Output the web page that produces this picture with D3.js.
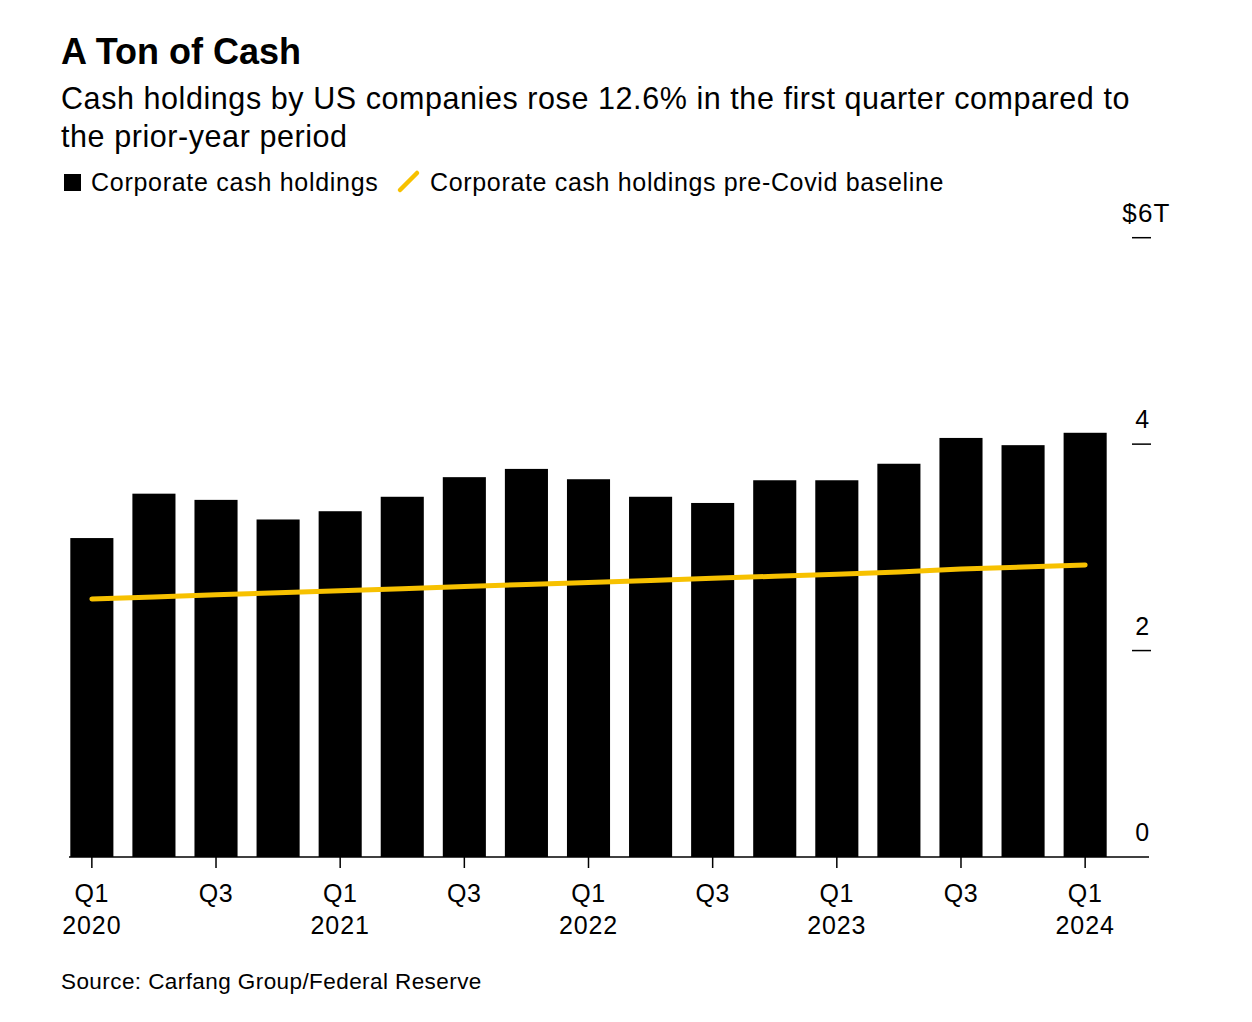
<!DOCTYPE html>
<html>
<head>
<meta charset="utf-8">
<script src="https://cdn.jsdelivr.net/npm/d3@7"></script>
<style>
  html, body { margin: 0; padding: 0; background: #fff; }
  svg { display: block; font-family: "Liberation Sans", Arial, sans-serif; }
</style>
</head>
<body>
<svg id="chart" width="1252" height="1022"></svg>
<script>
// ---- data ----
const quarters = ["Q1 2020","Q2 2020","Q3 2020","Q4 2020",
                  "Q1 2021","Q2 2021","Q3 2021","Q4 2021",
                  "Q1 2022","Q2 2022","Q3 2022","Q4 2022",
                  "Q1 2023","Q2 2023","Q3 2023","Q4 2023",
                  "Q1 2024"];
const cashHoldings = [3.09, 3.52, 3.46, 3.27, 3.35, 3.49, 3.68, 3.76,
                      3.66, 3.49, 3.43, 3.65, 3.65, 3.81, 4.06, 3.99, 4.11];
const preCovidBaseline = [2.50, 2.52, 2.54, 2.56, 2.58, 2.60, 2.62, 2.64,
                          2.66, 2.68, 2.70, 2.72, 2.74, 2.76, 2.79, 2.81, 2.83];
const yTicks = [0, 2, 4, 6];
const xTickQuarters = ["Q1 2020","Q3 2020","Q1 2021","Q3 2021","Q1 2022",
                       "Q3 2022","Q1 2023","Q3 2023","Q1 2024"];

const title = "A Ton of Cash";
const subtitle = ["Cash holdings by US companies rose 12.6% in the first quarter compared to",
                  "the prior-year period"];
const legendBars = "Corporate cash holdings";
const legendLine = "Corporate cash holdings pre-Covid baseline";
const source = "Source: Carfang Group/Federal Reserve";

// ---- layout ----
const svg = d3.select("#chart");
const BLACK = "#000";
const YELLOW = "#f7c100";

const x = d3.scaleBand()
  .domain(quarters)
  .range([61, 1116])
  .paddingInner(0.306)
  .paddingOuter(0.15);
const y = d3.scaleLinear().domain([0, 6]).range([857, 237.7]);

// header
svg.append("text").attr("x", 61).attr("y", 64)
  .attr("font-size", 36).attr("font-weight", "bold").attr("fill", BLACK)
  .text(title);
subtitle.forEach((t, i) => {
  svg.append("text").attr("x", 61).attr("y", 109 + i * 38)
    .attr("font-size", 30.5).attr("letter-spacing", 0.57).attr("fill", BLACK)
    .text(t);
});

// legend
svg.append("rect").attr("x", 64).attr("y", 174).attr("width", 17).attr("height", 17).attr("fill", BLACK);
svg.append("text").attr("x", 91).attr("y", 191)
  .attr("font-size", 25).attr("letter-spacing", 0.72).attr("fill", BLACK).text(legendBars);
svg.append("line").attr("x1", 400).attr("y1", 190).attr("x2", 417).attr("y2", 173)
  .attr("stroke", YELLOW).attr("stroke-width", 4.5).attr("stroke-linecap", "round");
svg.append("text").attr("x", 430).attr("y", 191)
  .attr("font-size", 25).attr("letter-spacing", 0.66).attr("fill", BLACK).text(legendLine);

// bars
svg.append("g").selectAll("rect").data(quarters).join("rect")
  .attr("x", d => x(d))
  .attr("width", x.bandwidth())
  .attr("y", (d, i) => y(cashHoldings[i]))
  .attr("height", (d, i) => y(0) - y(cashHoldings[i]))
  .attr("fill", BLACK);

// baseline line
const line = d3.line()
  .x((d, i) => x(quarters[i]) + x.bandwidth() / 2)
  .y(d => y(d));
svg.append("path").datum(preCovidBaseline)
  .attr("d", line)
  .attr("fill", "none")
  .attr("stroke", YELLOW)
  .attr("stroke-width", 5)
  .attr("stroke-linecap", "round")
  .attr("stroke-linejoin", "round");

// x axis baseline
svg.append("line").attr("x1", 69).attr("x2", 1149).attr("y1", y(0)).attr("y2", y(0))
  .attr("stroke", BLACK).attr("stroke-width", 1.5);

// x ticks
const xg = svg.append("g");
xTickQuarters.forEach(q => {
  const cx = x(q) + x.bandwidth() / 2;
  const [qq, yr] = q.split(" ");
  xg.append("line").attr("x1", cx).attr("x2", cx).attr("y1", y(0)).attr("y2", y(0) + 11)
    .attr("stroke", BLACK).attr("stroke-width", 1.5);
  xg.append("text").attr("x", cx).attr("y", 902).attr("text-anchor", "middle")
    .attr("font-size", 25).attr("letter-spacing", 0.6).attr("fill", BLACK).text(qq);
  if (qq === "Q1") {
    xg.append("text").attr("x", cx).attr("y", 934).attr("text-anchor", "middle")
      .attr("font-size", 25).attr("letter-spacing", 0.9).attr("fill", BLACK).text(yr);
  }
});

// y axis (right)
const yg = svg.append("g");
yTicks.forEach(v => {
  if (v !== 0) {
    yg.append("line").attr("x1", 1132).attr("x2", 1151).attr("y1", y(v)).attr("y2", y(v))
      .attr("stroke", BLACK).attr("stroke-width", 1.5);
  }
  const label = v === 6 ? "$" + v + "T" : String(v);
  yg.append("text")
    .attr("x", v === 6 ? 1146.5 : 1142.5)
    .attr("y", y(v) - 16)
    .attr("text-anchor", "middle")
    .attr("font-size", v === 6 ? 26 : 25).attr("letter-spacing", v === 6 ? 1.2 : 0.5)
    .attr("fill", BLACK)
    .text(label);
});

// source
svg.append("text").attr("x", 61).attr("y", 989)
  .attr("font-size", 22.5).attr("letter-spacing", 0.42).attr("fill", BLACK).text(source);
</script>
</body>
</html>
